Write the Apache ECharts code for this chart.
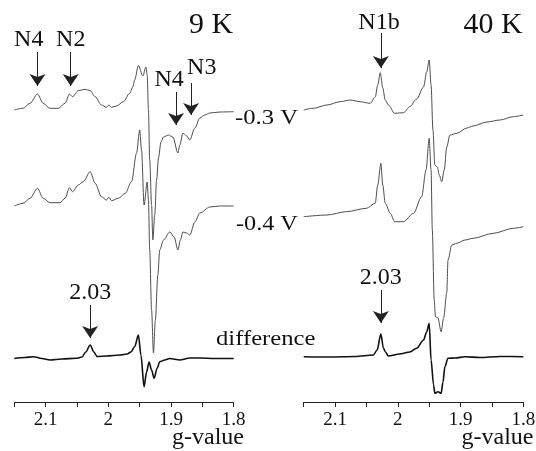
<!DOCTYPE html>
<html lang="en">
<head>
<meta charset="UTF-8">
<title>EPR spectra, 9 K and 40 K</title>
<script src="https://cdn.jsdelivr.net/npm/echarts@6/dist/echarts.min.js"></script>
<style>
    html, body { margin: 0; padding: 0; background: #fff; }
    #chart { width: 536px; height: 451px; }
</style>
</head>
<body>
<div id="chart"></div>
<script>
    // [g-value, signal] pairs, signal in arbitrary units relative to each trace's own baseline
    var trace9K_03 = [[2.150,0],[2.136,1.7],[2.125,6.7],[2.113,16],[2.104,6.7],[2.093,1.7],[2.080,1.7],[2.069,6.7],[2.062,16],[2.057,13.3],[2.048,19.3],[2.037,20.7],[2.029,19.3],[2.021,13.3],[2.011,5],[2.003,2.7],[1.999,5],[1.995,2.7],[1.987,4],[1.976,8.3],[1.966,16.7],[1.961,23],[1.958,30],[1.952,44.5],[1.945,34],[1.940,43],[1.938,35],[1.936,0],[1.934,-50],[1.931,-95],[1.929,-130],[1.926,-105],[1.923,-70],[1.920,-48],[1.916,-32],[1.912,-27],[1.904,-25],[1.897,-27],[1.889,-43],[1.886,-35],[1.881,-23],[1.875,-26],[1.870,-30],[1.862,-18],[1.854,-8],[1.846,-5],[1.838,-3],[1.822,-2],[1.800,-1.7]];
    var trace9K_04 = [[2.150,0],[2.136,2.7],[2.125,7.7],[2.113,17.7],[2.104,7.7],[2.093,3.3],[2.077,3.3],[2.069,7.7],[2.062,18.3],[2.057,14.3],[2.048,21],[2.040,24.3],[2.029,34.3],[2.021,22.7],[2.011,9.3],[2.003,6],[1.999,8.7],[1.995,5.3],[1.984,7.7],[1.973,12.7],[1.963,24.3],[1.955,52.7],[1.950,76],[1.947,56],[1.943,1],[1.938,24],[1.936,6],[1.934,-44],[1.931,-104],[1.928,-147],[1.925,-114],[1.921,-69],[1.918,-44],[1.912,-34],[1.902,-26],[1.895,-31],[1.889,-44],[1.885,-34],[1.881,-26],[1.875,-27],[1.870,-29],[1.862,-16],[1.854,-7],[1.838,-1],[1.822,0],[1.800,0]];
    var diff9K = [[2.150,0],[2.133,1],[2.120,1.8],[2.106,0],[2.093,-1.5],[2.074,-0.5],[2.051,0.2],[2.042,1.5],[2.036,6.5],[2.029,13.5],[2.023,6.5],[2.018,2],[2.003,2.5],[1.981,3.5],[1.970,4.5],[1.964,6.5],[1.958,11.8],[1.952,23.5],[1.948,3.5],[1.943,-28.2],[1.939,-13.5],[1.935,-3.5],[1.931,-11.5],[1.927,-19.8],[1.922,-9.5],[1.918,-3.2],[1.910,-1.5],[1.902,0],[1.886,-1.5],[1.870,0.5],[1.854,0.5],[1.830,0],[1.800,0]];

    var trace40K_03 = [[2.150,0],[2.135,1.7],[2.113,5],[2.092,8.3],[2.076,10],[2.060,8.3],[2.044,6.7],[2.036,13],[2.032,25],[2.028,37.3],[2.024,22],[2.020,10],[2.015,5],[2.005,-3.3],[1.991,-2.7],[1.981,3.3],[1.970,11],[1.959,23],[1.954,38],[1.950,50],[1.947,25],[1.944,-20],[1.941,-55],[1.937,-57],[1.934,-65],[1.930,-71.7],[1.926,-60],[1.922,-37],[1.917,-25],[1.906,-23.3],[1.890,-18],[1.880,-16],[1.858,-12],[1.837,-10],[1.816,-6.7],[1.800,-5]];
    var trace40K_04 = [[2.150,0],[2.113,1.7],[2.082,5],[2.050,8.4],[2.036,13.4],[2.032,31.7],[2.027,53.4],[2.024,31.7],[2.020,13.4],[2.012,3.4],[2.005,-5],[1.991,-5],[1.975,3.4],[1.962,20],[1.955,46.7],[1.950,78.4],[1.947,46.7],[1.945,-13.3],[1.942,-83.3],[1.940,-100],[1.936,-101.3],[1.931,-115],[1.927,-101.3],[1.922,-76.3],[1.920,-43.3],[1.914,-28.3],[1.906,-26.6],[1.893,-23.3],[1.880,-21.6],[1.848,-16.6],[1.816,-11.6],[1.800,-10]];
    var diff40K = [[2.150,0],[2.108,-0.3],[2.068,0.2],[2.039,1.7],[2.033,6.7],[2.027,22.7],[2.023,8.7],[2.020,5],[2.015,0.7],[1.997,2.7],[1.981,4.7],[1.970,8.4],[1.959,16.7],[1.954,24.7],[1.950,33.4],[1.947,-3.3],[1.943,-28.3],[1.941,-36.6],[1.936,-35],[1.931,-36.6],[1.928,-25.3],[1.925,-10],[1.920,-1.6],[1.909,-1.3],[1.893,0],[1.869,-0.8],[1.837,0.2],[1.800,0]];

    // vertical offsets of the stacked traces: -0.3 V, -0.4 V, difference
    var offsets9K = [292, 196, 43.5];
    var offsets40K = [292, 185.3, 45.3];

    var gTicks = [2.1, 2.0, 1.9, 1.8];
    var gMin = 1.8, gMax = 2.15, gStep = 0.05;

    // peak markers: label, g of arrow, arrow start / tip height, label position
    var notes9K = [
        {text: 'N4', g: 2.113, from: 350, tip: 316, at: [2.127, 362]},
        {text: 'N2', g: 2.060, from: 350, tip: 316, at: [2.060, 362]},
        {text: 'N4', g: 1.892, from: 310, tip: 277, at: [1.903, 322]},
        {text: 'N3', g: 1.868, from: 319, tip: 287, at: [1.851, 334]},
        {text: '2.03', g: 2.029, from: 97, tip: 64, at: [2.029, 109]}
    ];
    var notes40K = [
        {text: 'N1b', g: 2.027, from: 369, tip: 334, at: [2.030, 379]},
        {text: '2.03', g: 2.027, from: 112, tip: 79, at: [2.027, 124]}
    ];

    var serif = '"Liberation Serif", "Times New Roman", serif';
    var chart = echarts.init(document.getElementById('chart'));

    function shift(pts, off) {
        return pts.map(function (p) { return [p[0], p[1] + off]; });
    }

    function trace(name, pts, off, idx, isDiff) {
        return {
            name: name,
            type: 'line',
            xAxisIndex: idx,
            yAxisIndex: idx,
            data: shift(pts, off),
            showSymbol: false,
            smooth: 0.3,
            smoothMonotone: 'x',
            silent: true,
            lineStyle: {color: isDiff ? '#111' : '#4d4d4d', width: isDiff ? 1.6 : 1}
        };
    }

    function addNotes(series, notes) {
        series.markLine = {
            silent: true,
            animation: false,
            symbol: ['none', 'arrow'],
            symbolSize: 12,
            label: {show: false},
            lineStyle: {color: '#222', width: 1, type: 'solid'},
            data: notes.map(function (n) {
                return [{coord: [n.g, n.from]}, {coord: [n.g, n.tip]}];
            })
        };
        series.markPoint = {
            silent: true,
            animation: false,
            symbol: 'circle',
            symbolSize: 0,
            label: {show: true, position: 'inside', formatter: '{b}', color: '#111', fontSize: 24, fontFamily: serif},
            data: notes.map(function (n) { return {name: n.text, coord: n.at}; })
        };
        return series;
    }

    function gAxis(idx) {
        return {
            type: 'value',
            gridIndex: idx,
            min: gMin,
            max: gMax,
            interval: gStep,
            inverse: true,
            axisLine: {lineStyle: {color: '#222', width: 1}},
            axisTick: {length: 5, lineStyle: {color: '#222'}},
            splitLine: {show: false},
            axisLabel: {
                margin: 9,
                color: '#111',
                fontSize: 19,
                fontFamily: serif,
                formatter: function (v) {
                    for (var i = 0; i < gTicks.length; i++) {
                        if (Math.abs(v - gTicks[i]) < 1e-6) return String(gTicks[i]);
                    }
                    return '';
                }
            }
        };
    }

    function sideText(text, x, y, size, align, stretch) {
        return {
            type: 'text', x: x, y: y, scaleX: stretch,
            style: {text: text, align: align, verticalAlign: 'middle', font: size + 'px ' + serif, fill: '#111'}
        };
    }

    var option = {
        backgroundColor: '#fff',
        animation: false,
        grid: [
            {left: 14.3, width: 219.4, top: 0, height: 402, outerBoundsMode: 'none'},
            {left: 303.7, width: 219.6, top: 0, height: 402, outerBoundsMode: 'none'}
        ],
        xAxis: [gAxis(0), gAxis(1)],
        yAxis: [
            {type: 'value', gridIndex: 0, min: 0, max: 402, show: false},
            {type: 'value', gridIndex: 1, min: 0, max: 402, show: false}
        ],
        series: [
            addNotes(trace('9 K, -0.3 V', trace9K_03, offsets9K[0], 0, false), notes9K),
            trace('9 K, -0.4 V', trace9K_04, offsets9K[1], 0, false),
            trace('9 K, difference', diff9K, offsets9K[2], 0, true),
            addNotes(trace('40 K, -0.3 V', trace40K_03, offsets40K[0], 1, false), notes40K),
            trace('40 K, -0.4 V', trace40K_04, offsets40K[1], 1, false),
            trace('40 K, difference', diff40K, offsets40K[2], 1, true)
        ],
        graphic: [
            sideText('9 K', 233, 25, 29, 'right', 1.03),
            sideText('40 K', 522.5, 25, 29, 'right', 1.03),
            sideText('-0.3 V', 235, 118.6, 22, 'left', 1.12),
            sideText('-0.4 V', 236, 224, 22, 'left', 1.1),
            sideText('difference', 216, 339, 22, 'left', 1.12),
            sideText('g-value', 244, 438, 24, 'right', 1),
            sideText('g-value', 533.5, 438, 24, 'right', 1)
        ]
    };

    chart.setOption(option);
</script>
</body>
</html>
